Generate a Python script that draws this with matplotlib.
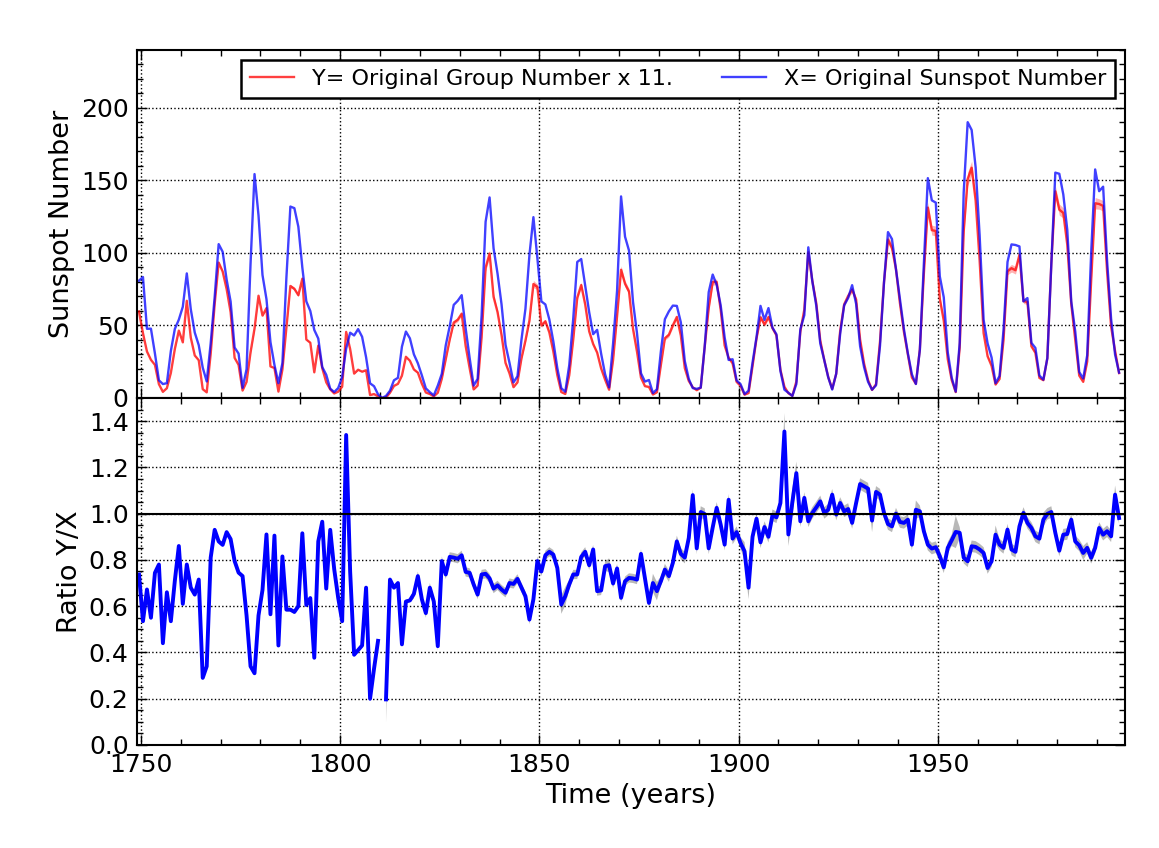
import numpy as np
import matplotlib
matplotlib.use('Agg')
import matplotlib.pyplot as plt
from matplotlib.ticker import MultipleLocator

# years 1749..1995, plotted at mid-year
years = np.arange(1749, 1996)

# X = original sunspot number (yearly means)
sunspot = [
    80.9, 83.4, 47.7, 47.8, 30.7, 12.2, 9.6, 10.2, 32.4, 47.6,
    54.0, 62.9, 85.9, 61.2, 45.1, 36.4, 20.9, 11.4, 37.8, 69.8,
    106.1, 100.8, 81.6, 66.5, 34.8, 30.6, 7.0, 19.8, 92.5, 154.4,
    125.9, 84.8, 68.1, 38.5, 22.8, 10.2, 24.1, 82.9, 132.0, 130.9,
    118.1, 89.9, 66.6, 60.0, 46.9, 41.0, 21.3, 16.0, 6.4, 4.1,
    6.8, 14.5, 34.0, 45.0, 43.1, 47.5, 42.2, 28.1, 10.1, 8.1,
    2.5, 0.0, 1.4, 5.0, 12.2, 13.9, 35.4, 45.8, 41.1, 30.1,
    23.9, 15.6, 6.6, 4.0, 1.8, 8.5, 16.6, 36.3, 49.6, 64.2,
    67.0, 70.9, 47.8, 27.5, 8.5, 13.2, 56.9, 121.5, 138.3, 103.2,
    85.7, 64.6, 36.7, 24.2, 10.7, 15.0, 40.1, 61.5, 98.5, 124.7,
    96.3, 66.6, 64.5, 54.1, 39.0, 20.6, 6.7, 4.3, 22.7, 54.8,
    93.8, 95.8, 77.2, 59.1, 44.0, 47.0, 30.5, 16.3, 7.3, 37.6,
    74.0, 139.0, 111.2, 101.6, 66.2, 44.7, 17.0, 11.3, 12.4, 3.4,
    6.0, 32.3, 54.3, 59.7, 63.7, 63.5, 52.2, 25.4, 13.1, 6.8,
    6.3, 7.1, 35.6, 73.0, 85.1, 78.0, 64.0, 41.8, 26.2, 26.7,
    12.1, 9.5, 2.7, 5.0, 24.4, 42.0, 63.5, 53.8, 62.0, 48.5,
    43.9, 18.6, 5.7, 3.6, 1.4, 9.6, 47.4, 57.1, 103.9, 80.6,
    63.6, 37.6, 26.1, 14.2, 5.8, 16.7, 44.3, 63.9, 69.0, 77.8,
    64.9, 35.7, 21.2, 11.1, 5.7, 8.7, 36.1, 79.7, 114.4, 109.6,
    88.8, 67.8, 47.5, 30.6, 16.3, 9.6, 33.2, 92.6, 151.6, 136.3,
    134.7, 83.9, 69.4, 31.5, 13.9, 4.4, 38.0, 141.7, 190.2, 184.8,
    159.0, 112.3, 53.9, 37.6, 27.9, 10.2, 15.1, 47.0, 93.8, 105.9,
    105.5, 104.5, 66.6, 68.9, 38.0, 34.5, 15.5, 12.6, 27.5, 92.5,
    155.4, 154.6, 140.4, 115.9, 66.6, 45.9, 17.9, 13.4, 29.4, 100.2,
    157.6, 142.6, 145.7, 94.3, 54.6, 29.9, 17.5,
]

# ratio Y/X (nan where X = 0)
ratio = [
    0.737, 0.535, 0.672, 0.55, 0.744, 0.78, 0.44, 0.66, 0.535, 0.71,
    0.86, 0.61, 0.78, 0.68, 0.65, 0.715, 0.29, 0.34, 0.81, 0.93,
    0.88, 0.865, 0.92, 0.89, 0.795, 0.745, 0.73, 0.56, 0.34, 0.31,
    0.56, 0.67, 0.91, 0.565, 0.905, 0.43, 0.815, 0.585, 0.585, 0.575,
    0.60, 0.915, 0.605, 0.635, 0.377, 0.88, 0.965, 0.676, 0.93, 0.76,
    0.636, 0.535, 1.34, 0.75, 0.39, 0.41, 0.43, 0.68, 0.20, 0.33,
    0.45, np.nan, 0.197, 0.715, 0.68, 0.70, 0.435, 0.62, 0.625, 0.653,
    0.73, 0.63, 0.57, 0.68, 0.62, 0.427, 0.795, 0.737, 0.813, 0.81,
    0.805, 0.82, 0.748, 0.744, 0.694, 0.65, 0.737, 0.74, 0.72, 0.676,
    0.69, 0.672, 0.658, 0.70, 0.696, 0.718, 0.68, 0.643, 0.542, 0.63,
    0.795, 0.75, 0.82, 0.835, 0.823, 0.765, 0.607, 0.643, 0.694, 0.737,
    0.737, 0.813, 0.835, 0.777, 0.845, 0.665, 0.668, 0.773, 0.777, 0.698,
    0.763, 0.636, 0.708, 0.722, 0.72, 0.715, 0.826, 0.72, 0.614, 0.70,
    0.665, 0.708, 0.758, 0.73, 0.787, 0.88, 0.826, 0.81, 0.895, 1.08,
    0.85, 1.007, 0.998, 0.85, 0.94, 1.025, 0.953, 0.866, 1.06, 0.892,
    0.92, 0.873, 0.837, 0.68, 0.90, 0.978, 0.876, 0.942, 0.90, 0.993,
    0.984, 1.046, 1.355, 0.91, 1.05, 1.175, 0.967, 1.068, 0.967, 1.003,
    1.027, 1.053, 1.003, 1.017, 1.082, 0.996, 1.046, 1.01, 1.02, 0.96,
    1.046, 1.128, 1.118, 1.108, 0.97, 1.094, 1.082, 1.003, 0.955, 0.945,
    1.0, 0.964, 0.96, 0.974, 0.866, 1.017, 1.01, 0.924, 0.866, 0.849,
    0.855, 0.816, 0.768, 0.852, 0.885, 0.921, 0.917, 0.81, 0.794, 0.859,
    0.856, 0.845, 0.83, 0.765, 0.794, 0.909, 0.866, 0.852, 0.931, 0.845,
    0.835, 0.945, 1.003, 0.96, 0.938, 0.902, 0.892, 0.974, 0.999, 1.007,
    0.917, 0.84, 0.909, 0.912, 0.974, 0.88, 0.863, 0.83, 0.852, 0.809,
    0.852, 0.938, 0.909, 0.924, 0.902, 1.082, 0.981,
]

# half width of the grey uncertainty band, read by eye
err_before_1818 = 0.008
err_1818_1880 = 0.02
err_after_1880 = 0.025
err_special = {1811: 0.1, 1855: 0.04, 1856: 0.04, 1867: 0.03, 1878: 0.04,
               1879: 0.04, 1901: 0.04, 1902: 0.05, 1911: 0.08, 1912: 0.05,
               1913: 0.06, 1914: 0.05, 1933: 0.05, 1944: 0.04, 1954: 0.07,
               1964: 0.04, 1976: 0.03, 1986: 0.03, 1994: 0.04}

sunspot = np.array(sunspot)
ratio = np.array(ratio)
t = years + 0.5

err = []
for y in years:
    if y in err_special:
        err.append(err_special[y])
    elif y < 1818:
        err.append(err_before_1818)
    elif y <= 1880:
        err.append(err_1818_1880)
    else:
        err.append(err_after_1880)
err = np.array(err)

# Y = group number x 11 (from Y/X * X)
group = np.nan_to_num(ratio * sunspot)
group_lo = np.nan_to_num((ratio - err) * sunspot)
group_hi = np.nan_to_num((ratio + err) * sunspot)

plt.rcParams['font.family'] = 'DejaVu Sans'
plt.rcParams['font.size'] = 18

fig = plt.figure(figsize=(11.59, 8.48), dpi=100)
ax1 = fig.add_axes([0.1182, 0.5307, 0.8525, 0.4104])
ax2 = fig.add_axes([0.1182, 0.1215, 0.8525, 0.4092], sharex=ax1)

# top panel
ax1.fill_between(t, group_lo, group_hi, color='red', alpha=0.3, lw=0)
ax1.plot(t, group, color='red', lw=1.7, alpha=0.75,
         label='Y= Original Group Number x 11.')
ax1.plot(t, sunspot, color='blue', lw=1.7, alpha=0.75,
         label='X= Original Sunspot Number')
ax1.set_ylim(0, 240)
ax1.yaxis.set_major_locator(MultipleLocator(50))
ax1.yaxis.set_minor_locator(MultipleLocator(10))
ax1.set_ylabel('Sunspot Number', fontsize=19.5)
leg = ax1.legend(loc='upper right', ncol=2, fontsize=16, fancybox=False,
                 framealpha=1, edgecolor='black', handlelength=2,
                 columnspacing=2.2, borderaxespad=0.45)
leg.get_frame().set_linewidth(1.8)
plt.setp(ax1.get_xticklabels(), visible=False)

# bottom panel
ax2.fill_between(t, ratio - err, ratio + err, color='0.45', alpha=0.5, lw=0)
ax2.plot(t, ratio, color='blue', lw=2.8)
ax2.axhline(1.0, color='black', lw=1.5)
ax2.set_ylim(0, 1.5)
ax2.yaxis.set_major_locator(MultipleLocator(0.2))
ax2.yaxis.set_minor_locator(MultipleLocator(0.05))
ax2.set_ylabel('Ratio Y/X', fontsize=19.5)
ax2.set_xlabel('Time (years)', fontsize=19.5)

ax2.set_xlim(1749, 1997)
ax2.xaxis.set_major_locator(MultipleLocator(50))
ax2.xaxis.set_minor_locator(MultipleLocator(10))

for ax in (ax1, ax2):
    ax.grid(True, which='major', linestyle=':', color='black', lw=1)
    ax.tick_params(which='both', direction='in', top=True, right=True)
    ax.tick_params(which='major', length=7, width=1, pad=6)
    ax.tick_params(which='minor', length=4, width=1)
    for s in ax.spines.values():
        s.set_linewidth(1.5)

fig.align_ylabels([ax1, ax2])
fig.savefig('out.png', dpi=100)
